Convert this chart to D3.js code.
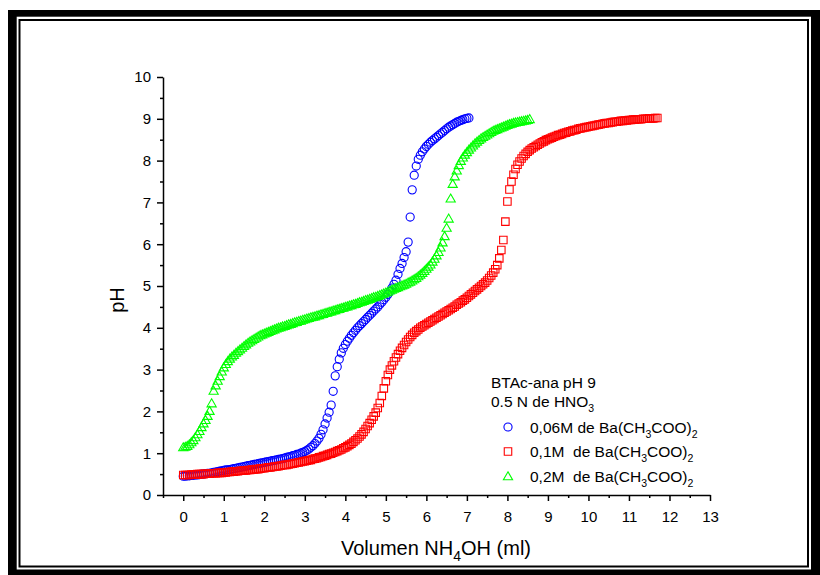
<!DOCTYPE html>
<html>
<head>
<meta charset="utf-8">
<script src="https://cdn.jsdelivr.net/npm/d3@7"></script>
<style>
body { margin: 0; background: #fff; }
svg text { font-family: Arial, "Liberation Sans", sans-serif; fill: #000; white-space: pre; }
</style>
</head>
<body>
<div id="chart"></div>
<script>
// ---- data: [volume NH4OH (ml), pH] ----
var xTicks = [0, 1, 2, 3, 4, 5, 6, 7, 8, 9, 10, 11, 12, 13];
var xMinor = [-0.5, 0.5, 1.5, 2.5, 3.5, 4.5, 5.5, 6.5, 7.5, 8.5, 9.5, 10.5, 11.5, 12.5];
var yTicks = [0, 1, 2, 3, 4, 5, 6, 7, 8, 9, 10];
var yMinor = [0.5, 1.5, 2.5, 3.5, 4.5, 5.5, 6.5, 7.5, 8.5, 9.5];

// 0,06M de Ba(CH3COO)2
var blueData = [
  [0,0.45],[0.05,0.45],[0.1,0.46],[0.15,0.46],[0.2,0.47],[0.25,0.47],[0.3,0.48],[0.35,0.48],[0.4,0.49],[0.45,0.5],
  [0.5,0.5],[0.55,0.51],[0.6,0.52],[0.65,0.52],[0.7,0.53],[0.75,0.54],[0.8,0.55],[0.85,0.56],[0.9,0.57],[0.95,0.58],
  [1,0.59],[1.05,0.6],[1.1,0.6],[1.15,0.61],[1.2,0.62],[1.25,0.63],[1.3,0.64],[1.35,0.65],[1.4,0.66],[1.45,0.67],
  [1.5,0.68],[1.55,0.69],[1.6,0.7],[1.65,0.71],[1.7,0.72],[1.75,0.73],[1.8,0.74],[1.85,0.75],[1.9,0.76],[1.95,0.77],
  [2,0.78],[2.05,0.79],[2.1,0.8],[2.15,0.81],[2.2,0.82],[2.25,0.83],[2.3,0.84],[2.35,0.85],[2.4,0.86],[2.45,0.87],
  [2.5,0.88],[2.55,0.9],[2.6,0.91],[2.65,0.92],[2.7,0.94],[2.75,0.95],[2.8,0.97],[2.85,0.98],[2.9,1.0],[2.95,1.02],
  [3,1.04],[3.05,1.07],[3.1,1.1],[3.15,1.14],[3.2,1.18],[3.25,1.23],[3.3,1.29],[3.35,1.36],[3.4,1.45],[3.45,1.56],
  [3.5,1.7],[3.55,1.84],[3.6,1.98],[3.65,2.15],[3.7,2.48],[3.75,2.85],[3.8,3.07],[3.85,3.25],[3.9,3.4],[3.95,3.51],
  [4,3.6],[4.05,3.68],[4.1,3.75],[4.15,3.82],[4.2,3.88],[4.25,3.94],[4.3,4.0],[4.35,4.05],[4.4,4.1],[4.45,4.15],
  [4.5,4.2],[4.55,4.25],[4.6,4.3],[4.65,4.35],[4.7,4.4],[4.75,4.45],[4.8,4.5],[4.85,4.56],[4.9,4.61],[4.95,4.67],
  [5,4.73],[5.05,4.8],[5.1,4.87],[5.15,4.95],[5.2,5.04],[5.25,5.14],[5.3,5.28],[5.35,5.42],[5.4,5.54],[5.45,5.68],
  [5.5,5.82],[5.55,6.05],[5.6,6.65],[5.65,7.3],[5.7,7.65],[5.75,7.87],[5.8,8.03],[5.85,8.13],[5.9,8.21],[5.95,8.28],
  [6,8.34],[6.05,8.39],[6.1,8.44],[6.15,8.48],[6.2,8.52],[6.25,8.56],[6.3,8.6],[6.35,8.64],[6.4,8.68],[6.45,8.72],
  [6.5,8.76],[6.55,8.8],[6.6,8.83],[6.65,8.86],[6.7,8.89],[6.75,8.92],[6.8,8.94],[6.85,8.96],[6.9,8.98],[6.95,9.0],
  [7,9.01],[7.05,9.02]
];

// 0,1M de Ba(CH3COO)2
var redData = [
  [0,0.48],[0.05,0.48],[0.1,0.48],[0.15,0.48],[0.2,0.49],[0.25,0.49],[0.3,0.49],[0.35,0.5],[0.4,0.5],[0.45,0.5],
  [0.5,0.5],[0.55,0.51],[0.6,0.51],[0.65,0.51],[0.7,0.52],[0.75,0.52],[0.8,0.52],[0.85,0.53],[0.9,0.53],[0.95,0.53],
  [1,0.54],[1.05,0.54],[1.1,0.55],[1.15,0.55],[1.2,0.56],[1.25,0.56],[1.3,0.57],[1.35,0.57],[1.4,0.58],[1.45,0.58],
  [1.5,0.59],[1.55,0.59],[1.6,0.6],[1.65,0.6],[1.7,0.61],[1.75,0.61],[1.8,0.62],[1.85,0.62],[1.9,0.63],[1.95,0.64],
  [2,0.64],[2.05,0.65],[2.1,0.66],[2.15,0.66],[2.2,0.67],[2.25,0.68],[2.3,0.68],[2.35,0.69],[2.4,0.7],[2.45,0.71],
  [2.5,0.72],[2.55,0.72],[2.6,0.73],[2.65,0.74],[2.7,0.75],[2.75,0.76],[2.8,0.77],[2.85,0.78],[2.9,0.79],[2.95,0.8],
  [3,0.81],[3.05,0.82],[3.1,0.83],[3.15,0.84],[3.2,0.86],[3.25,0.87],[3.3,0.88],[3.35,0.9],[3.4,0.91],[3.45,0.93],
  [3.5,0.94],[3.55,0.96],[3.6,0.98],[3.65,0.99],[3.7,1.01],[3.75,1.03],[3.8,1.05],[3.85,1.07],[3.9,1.09],[3.95,1.12],
  [4,1.14],[4.05,1.17],[4.1,1.2],[4.15,1.23],[4.2,1.27],[4.25,1.31],[4.3,1.35],[4.35,1.4],[4.4,1.45],[4.45,1.51],
  [4.5,1.58],[4.55,1.65],[4.6,1.72],[4.65,1.8],[4.7,1.88],[4.75,1.97],[4.8,2.08],[4.85,2.2],[4.9,2.37],[4.95,2.55],
  [5,2.72],[5.05,2.87],[5.1,3.0],[5.15,3.1],[5.2,3.2],[5.25,3.29],[5.3,3.37],[5.35,3.45],[5.4,3.52],[5.45,3.59],
  [5.5,3.66],[5.55,3.72],[5.6,3.78],[5.65,3.83],[5.7,3.88],[5.75,3.92],[5.8,3.96],[5.85,4.0],[5.9,4.03],[5.95,4.06],
  [6,4.09],[6.05,4.12],[6.1,4.15],[6.15,4.18],[6.2,4.21],[6.25,4.24],[6.3,4.27],[6.35,4.3],[6.4,4.33],[6.45,4.36],
  [6.5,4.39],[6.55,4.42],[6.6,4.45],[6.65,4.48],[6.7,4.51],[6.75,4.55],[6.8,4.58],[6.85,4.61],[6.9,4.65],[6.95,4.68],
  [7,4.72],[7.05,4.76],[7.1,4.8],[7.15,4.84],[7.2,4.88],[7.25,4.92],[7.3,4.96],[7.35,5.0],[7.4,5.04],[7.45,5.08],
  [7.5,5.13],[7.55,5.19],[7.6,5.25],[7.65,5.32],[7.7,5.4],[7.75,5.5],[7.8,5.66],[7.85,5.86],[7.9,6.1],[7.95,6.54],
  [8,7.02],[8.05,7.31],[8.1,7.5],[8.15,7.66],[8.2,7.8],[8.25,7.9],[8.3,7.98],[8.35,8.05],[8.4,8.11],[8.45,8.16],
  [8.5,8.21],[8.55,8.25],[8.6,8.29],[8.65,8.32],[8.7,8.35],[8.75,8.38],[8.8,8.41],[8.85,8.44],[8.9,8.46],[8.95,8.49],
  [9,8.51],[9.05,8.53],[9.1,8.55],[9.15,8.57],[9.2,8.59],[9.25,8.61],[9.3,8.62],[9.35,8.64],[9.4,8.66],[9.45,8.67],
  [9.5,8.69],[9.55,8.7],[9.6,8.72],[9.65,8.73],[9.7,8.74],[9.75,8.76],[9.8,8.77],[9.85,8.78],[9.9,8.79],[9.95,8.8],
  [10,8.81],[10.05,8.82],[10.1,8.83],[10.15,8.84],[10.2,8.85],[10.25,8.86],[10.3,8.87],[10.35,8.88],[10.4,8.89],[10.45,8.9],
  [10.5,8.9],[10.55,8.91],[10.6,8.92],[10.65,8.93],[10.7,8.93],[10.75,8.94],[10.8,8.95],[10.85,8.95],[10.9,8.96],[10.95,8.96],
  [11,8.97],[11.05,8.97],[11.1,8.98],[11.15,8.98],[11.2,8.99],[11.25,8.99],[11.3,8.99],[11.35,9.0],[11.4,9.0],[11.45,9.0],
  [11.5,9.01],[11.55,9.01],[11.6,9.01],[11.65,9.02],[11.7,9.02]
];

// 0,2M de Ba(CH3COO)2
var greenData = [
  [0,1.15],[0.05,1.16],[0.1,1.18],[0.15,1.22],[0.2,1.27],[0.25,1.32],[0.3,1.39],[0.35,1.46],[0.4,1.54],[0.45,1.63],
  [0.5,1.72],[0.55,1.8],[0.6,1.9],[0.65,2.02],[0.7,2.2],[0.75,2.5],[0.8,2.63],[0.85,2.74],[0.9,2.85],[0.95,2.96],
  [1,3.06],[1.05,3.14],[1.1,3.21],[1.15,3.27],[1.2,3.32],[1.25,3.36],[1.3,3.41],[1.35,3.45],[1.4,3.49],[1.45,3.53],
  [1.5,3.57],[1.55,3.61],[1.6,3.65],[1.65,3.68],[1.7,3.71],[1.75,3.74],[1.8,3.77],[1.85,3.8],[1.9,3.83],[1.95,3.85],
  [2,3.87],[2.05,3.89],[2.1,3.91],[2.15,3.93],[2.2,3.95],[2.25,3.97],[2.3,3.99],[2.35,4.01],[2.4,4.02],[2.45,4.04],
  [2.5,4.05],[2.55,4.07],[2.6,4.09],[2.65,4.1],[2.7,4.12],[2.75,4.14],[2.8,4.15],[2.85,4.17],[2.9,4.18],[2.95,4.2],
  [3,4.21],[3.05,4.23],[3.1,4.24],[3.15,4.26],[3.2,4.27],[3.25,4.28],[3.3,4.3],[3.35,4.31],[3.4,4.33],[3.45,4.34],
  [3.5,4.36],[3.55,4.37],[3.6,4.39],[3.65,4.4],[3.7,4.42],[3.75,4.43],[3.8,4.45],[3.85,4.46],[3.9,4.48],[3.95,4.49],
  [4,4.51],[4.05,4.52],[4.1,4.54],[4.15,4.55],[4.2,4.57],[4.25,4.58],[4.3,4.6],[4.35,4.62],[4.4,4.63],[4.45,4.65],
  [4.5,4.67],[4.55,4.68],[4.6,4.7],[4.65,4.72],[4.7,4.74],[4.75,4.75],[4.8,4.77],[4.85,4.79],[4.9,4.81],[4.95,4.83],
  [5,4.85],[5.05,4.87],[5.1,4.9],[5.15,4.92],[5.2,4.94],[5.25,4.96],[5.3,4.98],[5.35,5.0],[5.4,5.02],[5.45,5.04],
  [5.5,5.06],[5.55,5.09],[5.6,5.11],[5.65,5.14],[5.7,5.17],[5.75,5.2],[5.8,5.24],[5.85,5.28],[5.9,5.32],[5.95,5.37],
  [6,5.42],[6.05,5.47],[6.1,5.52],[6.15,5.59],[6.2,5.66],[6.25,5.74],[6.3,5.82],[6.35,5.93],[6.4,6.05],[6.45,6.2],
  [6.5,6.4],[6.55,6.62],[6.6,7.1],[6.65,7.45],[6.7,7.63],[6.75,7.77],[6.8,7.9],[6.85,8.0],[6.9,8.08],[6.95,8.15],
  [7,8.21],[7.05,8.27],[7.1,8.32],[7.15,8.37],[7.2,8.42],[7.25,8.46],[7.3,8.5],[7.35,8.54],[7.4,8.57],[7.45,8.6],
  [7.5,8.63],[7.55,8.66],[7.6,8.69],[7.65,8.72],[7.7,8.74],[7.75,8.76],[7.8,8.78],[7.85,8.8],[7.9,8.82],[7.95,8.84],
  [8,8.86],[8.05,8.88],[8.1,8.89],[8.15,8.91],[8.2,8.92],[8.25,8.93],[8.3,8.94],[8.35,8.95],[8.4,8.96],[8.45,8.97],
  [8.5,8.98],[8.55,9.0]
];

var legendTitle = ["BTAc-ana pH 9", "0.5 N de HNO"];
var seriesNames = ["0,06M de Ba(CH", "0,1M  de Ba(CH", "0,2M  de Ba(CH"];
var seriesColors = ["#0000ff", "#ff0000", "#00ff00"];

var width = 820,
    height = 575;

var svg = d3.select("#chart").append("svg")
    .attr("width", width)
    .attr("height", height);

// double frame round the page
svg.append("rect").attr("x", 8).attr("y", 10).attr("width", 812).attr("height", 565).attr("fill", "#000");
svg.append("rect").attr("x", 16.7).attr("y", 16.7).attr("width", 794.3).attr("height", 552.8).attr("fill", "#fff");
svg.append("rect").attr("x", 19.5).attr("y", 20).attr("width", 788.5).attr("height", 546.5)
    .attr("fill", "#fff").attr("stroke", "#000").attr("stroke-width", 2);

var x = d3.scaleLinear().domain([-0.5, 13]).range([163, 710]);
var y = d3.scaleLinear().domain([0, 10]).range([495, 77]);

// axes
var gx = svg.append("g").attr("transform", "translate(0,495)")
    .call(d3.axisBottom(x).tickValues(xTicks).tickSize(6).tickSizeOuter(0).tickPadding(10));
var gxm = svg.append("g").attr("transform", "translate(0,495)")
    .call(d3.axisBottom(x).tickValues(xMinor).tickSize(3).tickFormat(""));
gxm.select(".domain").remove();

var gy = svg.append("g").attr("transform", "translate(163,0)")
    .call(d3.axisLeft(y).tickValues(yTicks).tickSize(6).tickSizeOuter(0).tickPadding(6));
var gym = svg.append("g").attr("transform", "translate(163,0)")
    .call(d3.axisLeft(y).tickValues(yMinor).tickSize(3).tickFormat(""));
gym.select(".domain").remove();

svg.selectAll(".domain, .tick line").attr("stroke", "#000").attr("stroke-width", 1.5);
svg.selectAll(".tick text").style("font-size", "15px").attr("fill", "#000")
    .style("font-family", "Arial, 'Liberation Sans', sans-serif");

// axis titles
var xt = svg.append("text").attr("x", 436).attr("y", 555)
    .attr("text-anchor", "middle").style("font-size", "20px");
xt.append("tspan").text("Volumen NH");
xt.append("tspan").attr("dy", 6).style("font-size", "14px").text("4");
xt.append("tspan").attr("dy", -6).text("OH (ml)");

svg.append("text")
    .attr("transform", "translate(124,300) rotate(-90)")
    .attr("text-anchor", "middle")
    .style("font-size", "20px")
    .text("pH");

// markers
var triangle = {
  draw: function (context, size) {
    context.moveTo(0, -4.2);
    context.lineTo(4.6, 3.8);
    context.lineTo(-4.6, 3.8);
    context.closePath();
  }
};
var shapes = [d3.symbolCircle, d3.symbolSquare, triangle];
var sizes = [52, 56, 1];
var allData = [blueData, redData, greenData];

allData.forEach(function (data, i) {
  var sym = d3.symbol().type(shapes[i]).size(sizes[i]);
  svg.append("g").selectAll("path")
    .data(data)
    .enter().append("path")
    .attr("transform", function (d) { return "translate(" + x(d[0]) + "," + y(d[1]) + ")"; })
    .attr("d", sym)
    .attr("fill", "none")
    .attr("stroke", seriesColors[i])
    .attr("stroke-width", 1.1);
});

// legend
var lg = svg.append("g").style("font-size", "15.5px");
lg.append("text").attr("x", 491).attr("y", 388).text(legendTitle[0]);
var l2 = lg.append("text").attr("x", 491).attr("y", 407);
l2.append("tspan").text(legendTitle[1]);
l2.append("tspan").attr("dy", 5).style("font-size", "10.5px").text("3");

seriesNames.forEach(function (name, i) {
  var cy = 427 + i * 24.5;
  lg.append("path")
    .attr("transform", "translate(508," + cy + ")")
    .attr("d", d3.symbol().type(shapes[i]).size(sizes[i]))
    .attr("fill", "none")
    .attr("stroke", seriesColors[i])
    .attr("stroke-width", 1.1);
  var t = lg.append("text").attr("x", 530).attr("y", cy + 5.5);
  t.append("tspan").text(name);
  t.append("tspan").attr("dy", 5).style("font-size", "10.5px").text("3");
  t.append("tspan").attr("dy", -5).text("COO)");
  t.append("tspan").attr("dy", 5).style("font-size", "10.5px").text("2");
});
</script>
</body>
</html>
